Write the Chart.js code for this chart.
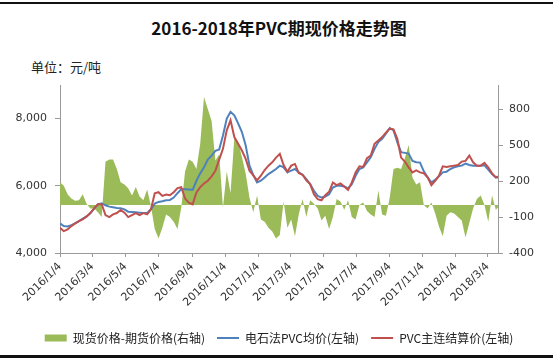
<!DOCTYPE html>
<html>
<head>
<meta charset="utf-8">
<script src="https://cdn.jsdelivr.net/npm/chart.js@4.4.1/dist/chart.umd.min.js"></script>
<style>
  body { margin: 0; background: #fff; }
  #wrap { position: relative; width: 558px; height: 360px; overflow: hidden; }
  #chart { position: absolute; left: 0; top: 0; }
  .rule { position: absolute; left: 0; width: 553px; background: #111; }
  #title { position: absolute; top: 15px; left: 0; width: 558px; text-align: center;
           font: bold 17px "Noto Sans CJK SC", sans-serif; color: #111; }
  #unit { position: absolute; top: 57px; left: 31px; font: 13px "Noto Sans CJK SC", sans-serif; color: #222; }
</style>
</head>
<body>
<div id="wrap">
  <div class="rule" style="top:2px;height:2px"></div>
  <div id="title">2016-2018年PVC期现价格走势图</div>
  <div id="unit">单位：元/吨</div>
  <canvas id="chart" width="558" height="360"></canvas>
  <div class="rule" style="top:355px;height:3px"></div>
</div>
<script>
// 周度取样的日期
const dates = [
  '2016/1/4','2016/1/11','2016/1/18','2016/1/25','2016/2/1','2016/2/8','2016/2/15','2016/2/22','2016/2/29',
  '2016/3/7','2016/3/14','2016/3/21','2016/3/28','2016/4/4','2016/4/11','2016/4/18','2016/4/25',
  '2016/5/2','2016/5/9','2016/5/16','2016/5/23','2016/5/30','2016/6/6','2016/6/13','2016/6/20','2016/6/27',
  '2016/7/4','2016/7/11','2016/7/18','2016/7/25','2016/8/1','2016/8/8','2016/8/15','2016/8/22','2016/8/29',
  '2016/9/5','2016/9/12','2016/9/19','2016/9/26','2016/10/3','2016/10/10','2016/10/17','2016/10/24','2016/10/31',
  '2016/11/7','2016/11/14','2016/11/21','2016/11/28','2016/12/5','2016/12/12','2016/12/19','2016/12/26',
  '2017/1/2','2017/1/9','2017/1/16','2017/1/23','2017/1/30','2017/2/6','2017/2/13','2017/2/20','2017/2/27',
  '2017/3/6','2017/3/13','2017/3/20','2017/3/27','2017/4/3','2017/4/10','2017/4/17','2017/4/24',
  '2017/5/1','2017/5/8','2017/5/15','2017/5/22','2017/5/29','2017/6/5','2017/6/12','2017/6/19','2017/6/26',
  '2017/7/3','2017/7/10','2017/7/17','2017/7/24','2017/7/31','2017/8/7','2017/8/14','2017/8/21','2017/8/28',
  '2017/9/4','2017/9/11','2017/9/18','2017/9/25','2017/10/2','2017/10/9','2017/10/16','2017/10/23','2017/10/30',
  '2017/11/6','2017/11/13','2017/11/20','2017/11/27','2017/12/4','2017/12/11','2017/12/18','2017/12/25',
  '2018/1/1','2018/1/8','2018/1/15','2018/1/22','2018/1/29','2018/2/5','2018/2/12','2018/2/19','2018/2/26',
  '2018/3/5','2018/3/12','2018/3/19','2018/3/23'
];

// 现货价格-期货价格(右轴)
const spread = [
  190, 160, 90, 55, 35, 40, 90, 10, -30, -30, -60, -100, 360, 380, 380, 300, 190, 170, 140, 80,
  150, 70, 40, 130, -10, -200, -280, -190, -80, -100, -140, -200, -20, 280, 380, 360, 300, 510, 900, 800,
  700, 370, 420, -20, 280, 100, 560, 530, 400, 260, 60, -60, 80, -120, -140, -190, -220, -280, -250, 30,
  -190, -120, -260, -80, 50, -100, 40, 10, -30, -130, -90, -200, -100, 50, 30, -40, 40, -100, -120, 0,
  20, -50, -80, -100, 120, -80, -90, 60, 300, 310, 300, 390, 500, 230, 170, 190, 0, -30, 20, -70,
  -180, -260, -90, -60, -70, -100, -130, -270, -150, -30, 50, 80, 0, -140, 80, -40, -20
];

// 电石法PVC均价(左轴)
const carbideAvg = [
  4880, 4800, 4790, 4830, 4880, 4950, 5020, 5080, 5180, 5320, 5450, 5480, 5420, 5380, 5360, 5340, 5330, 5300, 5230, 5220,
  5210, 5200, 5190, 5190, 5300, 5470, 5520, 5540, 5570, 5580, 5650, 5780, 5900, 5900, 5890, 5880, 6150, 6370, 6550, 6780,
  6900, 7040, 7080, 7500, 8000, 8200, 8100, 7860, 7600, 7200, 6600, 6320, 6100, 6150, 6250, 6350, 6420, 6500, 6600, 6550,
  6400, 6450, 6500, 6400, 6330, 6200, 6050, 5850, 5700, 5650, 5680, 5750, 5950, 6000, 6000, 5980, 5920, 6050, 6300, 6500,
  6550, 6700, 6850, 7100, 7300, 7400, 7550, 7720, 7650, 7300, 7000, 6980, 6960, 6740, 6700, 6690, 6430, 6250, 6100, 6180,
  6280, 6400, 6420, 6500, 6550, 6580, 6600, 6660, 6620, 6600, 6600, 6600, 6610, 6480, 6350, 6250, 6250
];

// PVC主连结算价(左轴)
const mainSettle = [
  4750, 4650, 4700, 4800, 4880, 4950, 5000, 5090, 5190, 5330, 5450, 5450, 5130, 5070, 5150, 5190, 5280, 5200, 5070, 5130,
  5190, 5130, 5190, 5150, 5300, 5780, 5810, 5700, 5740, 5720, 5810, 5930, 5960, 5620, 5500, 5450, 5800, 5960, 6070, 6150,
  6280, 6450, 6780, 7100, 7650, 7950, 7450, 7250, 7050, 6800, 6450, 6310, 6160, 6300, 6470, 6600, 6700, 6840, 6950, 6620,
  6420, 6600, 6650, 6380, 6330, 6160, 6050, 5750, 5600, 5570, 5720, 5820, 6100, 6020, 6070, 5980, 5880, 6100, 6400, 6580,
  6560, 6820, 6900, 7250, 7350, 7450, 7580, 7700, 7680, 7400, 6840, 6720, 6550, 6400, 6460, 6400, 6370, 6250, 6020, 6150,
  6300, 6580, 6560, 6580, 6600, 6620, 6720, 6740, 6900, 6700, 6600, 6600, 6680, 6550, 6370, 6250, 6280
];

const tickDates = ['2016/1/4', '2016/3/4', '2016/5/4', '2016/7/4', '2016/9/4', '2016/11/4', '2017/1/4',
  '2017/3/4', '2017/5/4', '2017/7/4', '2017/9/4', '2017/11/4', '2018/1/4', '2018/3/4'];
const leftTicks = [4000, 6000, 8000];
const rightTicks = [-400, -100, 200, 500, 800];

const DAY = 86400000;
function toUTC(s) {
  const p = s.split('/').map(Number);
  return Date.UTC(p[0], p[1] - 1, p[2]);
}
const t0 = toUTC(dates[0]);
const xs = dates.map(s => (toUTC(s) - t0) / DAY);
const tickXs = tickDates.map(s => (toUTC(s) - t0) / DAY);
const toPoints = vals => vals.map((v, i) => ({ x: xs[i], y: v }));
const fixTicks = vals => axis => { axis.ticks = vals.map(v => ({ value: v })); };

const tickFont = { family: 'DejaVu Sans', size: 11 };
const axisGray = '#9a9a9a';

const ctx = document.getElementById('chart').getContext('2d');
new Chart(ctx, {
  type: 'line',
  data: {
    datasets: [
      {
        label: '现货价格-期货价格(右轴)',
        data: toPoints(spread),
        yAxisID: 'y1',
        fill: 'origin',
        backgroundColor: '#9BBB59',
        borderColor: '#9BBB59',
        borderWidth: 0,
        pointRadius: 0,
        pointStyle: 'rect',
        order: 3
      },
      {
        label: '电石法PVC均价(左轴)',
        data: toPoints(carbideAvg),
        yAxisID: 'y',
        borderColor: '#4F81BD',
        backgroundColor: '#4F81BD',
        borderWidth: 2,
        pointRadius: 0,
        pointStyle: 'line',
        order: 2
      },
      {
        label: 'PVC主连结算价(左轴)',
        data: toPoints(mainSettle),
        yAxisID: 'y',
        borderColor: '#C0504D',
        backgroundColor: '#C0504D',
        borderWidth: 2,
        pointRadius: 0,
        pointStyle: 'line',
        order: 1
      }
    ]
  },
  options: {
    responsive: false,
    animation: false,
    layout: { padding: { top: 85, bottom: 6, left: 0, right: 0 } },
    plugins: {
      legend: {
        position: 'bottom',
        labels: {
          usePointStyle: true,
          pointStyleWidth: 22,
          boxHeight: 7,
          padding: 12,
          color: '#222',
          font: { family: 'Noto Sans CJK SC', size: 12 },
          sort: (a, b) => a.datasetIndex - b.datasetIndex
        }
      },
      tooltip: { enabled: false }
    },
    scales: {
      x: {
        type: 'linear',
        min: 0,
        max: 809,
        afterBuildTicks: fixTicks(tickXs),
        afterFit: axis => { axis.height = 67; },
        ticks: {
          autoSkip: false,
          minRotation: 45,
          maxRotation: 45,
          padding: 3,
          color: '#333',
          font: tickFont,
          callback: (v, i) => tickDates[i]
        },
        grid: { drawOnChartArea: false, tickLength: 4, color: axisGray },
        border: { color: axisGray }
      },
      y: {
        position: 'left',
        min: 4000,
        max: 9000,
        afterBuildTicks: fixTicks(leftTicks),
        afterFit: axis => { axis.width = 60; },
        ticks: {
          padding: 8,
          color: '#333',
          font: tickFont,
          callback: v => v.toLocaleString('en-US')
        },
        grid: { drawOnChartArea: false, tickLength: 5, color: axisGray },
        border: { color: axisGray }
      },
      y1: {
        position: 'right',
        min: -400,
        max: 1000,
        afterBuildTicks: fixTicks(rightTicks),
        afterFit: axis => { axis.width = 60; },
        ticks: {
          padding: 6,
          color: '#333',
          font: tickFont,
          callback: v => String(v)
        },
        grid: { drawOnChartArea: false, tickLength: 5, color: axisGray },
        border: { color: axisGray }
      }
    }
  }
});
</script>
</body>
</html>
